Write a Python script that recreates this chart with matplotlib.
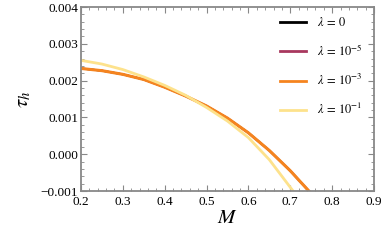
import numpy as np
import matplotlib.pyplot as plt
from matplotlib.ticker import MultipleLocator, FuncFormatter

plt.rcParams['font.family'] = ['Liberation Serif', 'DejaVu Serif']
plt.rcParams['mathtext.fontset'] = 'stix'

# tau_h(M); the lambda = 0 and 1e-5 curves sit under the 1e-3 one
M = [0.20, 0.25, 0.30, 0.35, 0.40, 0.45, 0.50, 0.55, 0.60, 0.65, 0.70, 0.75]
tau_0 = [0.00233, 0.00227, 0.00217, 0.00203, 0.00182, 0.00158, 0.00131,
         0.00098, 0.00058, 0.00010, -0.00045, -0.00107]
tau_1e5 = list(tau_0)
tau_1e3 = list(tau_0)

M_1e1 = [0.20, 0.25, 0.30, 0.35, 0.40, 0.45, 0.50, 0.55, 0.60, 0.65, 0.70, 0.71]
tau_1e1 = [0.00255, 0.00245, 0.00230, 0.00210, 0.00187, 0.00160, 0.00127,
           0.00090, 0.00045, -0.00015, -0.00090, -0.00105]

labels = [r'$\lambda\,=\,0$', r'$\lambda\,=\,10^{-5}$',
          r'$\lambda\,=\,10^{-3}$', r'$\lambda\,=\,10^{-1}$']

fig = plt.figure(figsize=(3.83, 2.45), dpi=100)
ax = fig.add_axes([0.2115, 0.2204, 0.765, 0.751])

# thinner lines underneath so they do not peek out from under the orange one
ax.plot(M, tau_0, color='black', lw=1.4, label=labels[0])
ax.plot(M, tau_1e5, color='#a8385e', lw=1.4, label=labels[1])
ax.plot(M, tau_1e3, color='#f5841f', lw=2.2, label=labels[2])
ax.plot(M_1e1, tau_1e1, color='#fde28c', lw=2.0, label=labels[3])

ax.set_xlim(0.2, 0.9)
ax.set_ylim(-0.001, 0.004)
ax.xaxis.set_major_locator(MultipleLocator(0.1))
ax.xaxis.set_minor_locator(MultipleLocator(0.02))
ax.yaxis.set_major_locator(MultipleLocator(0.001))
ax.yaxis.set_minor_locator(MultipleLocator(0.0002))
ax.xaxis.set_major_formatter(FuncFormatter(lambda v, p: f'{v:.1f}'))
ax.yaxis.set_major_formatter(
    FuncFormatter(lambda v, p: f'{v:.3f}'.replace('-', '\u2212') if abs(v) > 1e-9 else '0.000'))

for s in ax.spines.values():
    s.set_color('#888888')
    s.set_linewidth(1.3)
ax.tick_params(which='both', direction='in', top=True, right=True,
               color='#888888', labelsize=9.5, pad=2)
ax.tick_params(axis='x', pad=3.5)
ax.tick_params(which='major', length=4, width=0.8)
ax.tick_params(which='minor', length=2, width=0.6)

ax.set_xlabel(r'$M$', fontsize=15, labelpad=1)
ax.set_ylabel(r'$\tau_h$', fontsize=15, labelpad=5)

# legend handles are drawn as full lines of each colour
leg = ax.legend(loc='upper right', bbox_to_anchor=(1.0, 1.012), frameon=False,
                fontsize=9, handlelength=2.1, handletextpad=0.9, labelspacing=1.12)
for h in leg.get_lines():
    h.set_linewidth(2.0)

fig.savefig('out.png', dpi=100)
